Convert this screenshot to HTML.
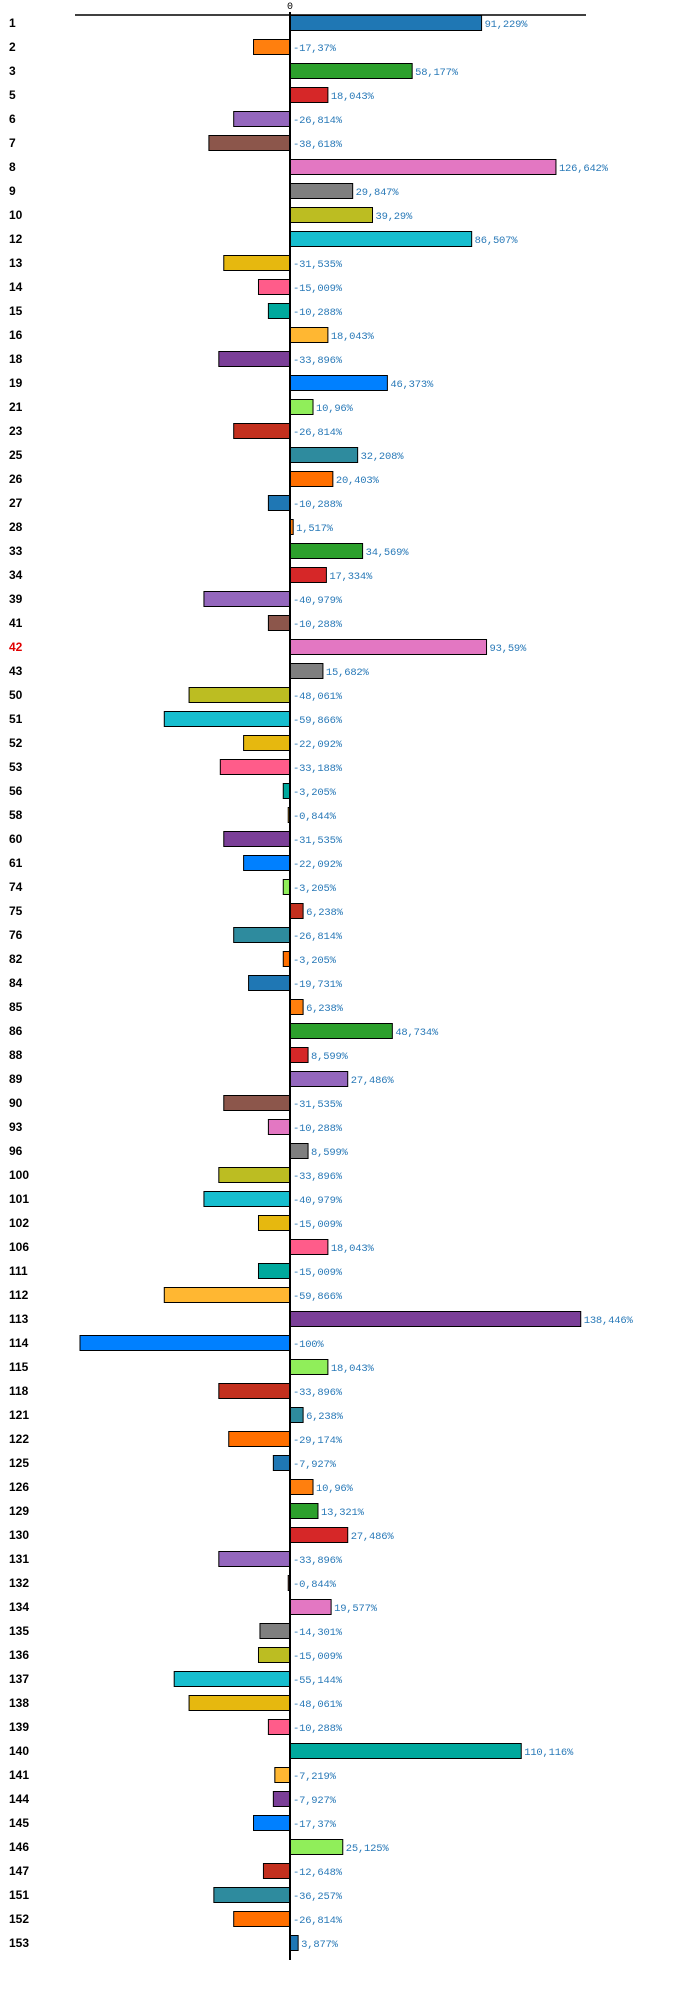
<!DOCTYPE html>
<html><head><meta charset="utf-8">
<style>
html,body{margin:0;padding:0;background:#fff;}
svg{display:block;}
.cat{font-family:"Liberation Sans",sans-serif;font-weight:bold;font-size:12px;}
.val{font-family:"Liberation Mono",monospace;font-size:10.5px;fill:#2a7ab8;letter-spacing:-0.2px;}
</style></head>
<body>
<svg id="chart" width="700" height="1989" viewBox="0 0 700 1989" xmlns="http://www.w3.org/2000/svg">
<line x1="75" y1="15" x2="586" y2="15" stroke="#000" stroke-width="1.5"/>
<text x="290" y="9" text-anchor="middle" font-family="Liberation Mono, monospace" font-size="10">0</text>
<g id="bars"></g>
<line x1="290" y1="12" x2="290" y2="1960" stroke="#000" stroke-width="2"/>
</svg>
<script>
const categories = ["1","2","3","5","6","7","8","9","10","12","13","14","15","16","18","19","21","23","25","26","27","28","33","34","39","41","42","43","50","51","52","53","56","58","60","61","74","75","76","82","84","85","86","88","89","90","93","96","100","101","102","106","111","112","113","114","115","118","121","122","125","126","129","130","131","132","134","135","136","137","138","139","140","141","144","145","146","147","151","152","153"];
const values = [91.229,-17.37,58.177,18.043,-26.814,-38.618,126.642,29.847,39.29,86.507,
-31.535,-15.009,-10.288,18.043,-33.896,46.373,10.96,-26.814,32.208,20.403,
-10.288,1.517,34.569,17.334,-40.979,-10.288,93.59,15.682,-48.061,-59.866,
-22.092,-33.188,-3.205,-0.844,-31.535,-22.092,-3.205,6.238,-26.814,-3.205,
-19.731,6.238,48.734,8.599,27.486,-31.535,-10.288,8.599,-33.896,-40.979,
-15.009,18.043,-15.009,-59.866,138.446,-100,18.043,-33.896,6.238,-29.174,
-7.927,10.96,13.321,27.486,-33.896,-0.844,19.577,-14.301,-15.009,-55.144,
-48.061,-10.288,110.116,-7.219,-7.927,-17.37,25.125,-12.648,-36.257,-26.814,3.877];
const highlighted = ["42"];
const palette = ["#1f77b4","#ff7f0e","#2ca02c","#d62728","#9467bd","#8c564b","#e377c2","#7f7f7f","#bcbd22","#17becf","#e6b80f","#ff5c8a","#00a99d","#ffb732","#7b3f98","#0080ff","#90ee5a","#c3301e","#2e8b9e","#ff6f00"];

const X0 = 290, PX_PER_UNIT = 2.1, Y0 = 23, ROW = 24, BAR_H = 15;
function xScale(v){ return X0 + v * PX_PER_UNIT; }
function yScale(i){ return Y0 + i * ROW; }
const NS = "http://www.w3.org/2000/svg";
const g = document.getElementById("bars");
categories.forEach((c, i) => {
  const v = values[i];
  const yc = yScale(i);
  const x1 = Math.min(xScale(0), xScale(v)), x2 = Math.max(xScale(0), xScale(v));
  const lab = document.createElementNS(NS, "text");
  
  
  lab.setAttribute("class", "cat");
  lab.setAttribute("x", 9);
  lab.setAttribute("y", yc + 4);
  if (highlighted.includes(c)) lab.setAttribute("fill", "#e00000");
  lab.textContent = c;
  g.appendChild(lab);
  const r = document.createElementNS(NS, "rect");
  
  
  r.setAttribute("x", x1);
  r.setAttribute("y", yc - BAR_H / 2);
  r.setAttribute("width", Math.max(x2 - x1, 0.5));
  r.setAttribute("height", BAR_H);
  r.setAttribute("fill", palette[i % palette.length]);
  r.setAttribute("stroke", "#000");
  r.setAttribute("stroke-width", "1");
  g.appendChild(r);
  const t = document.createElementNS(NS, "text");
  
  
  t.setAttribute("class", "val");
  t.setAttribute("x", (v >= 0 ? xScale(v) : xScale(0)) + 3);
  t.setAttribute("y", yc + 4);
  t.textContent = String(v).replace(".", ",") + "%";
  g.appendChild(t);
});
</script>
</body></html>
